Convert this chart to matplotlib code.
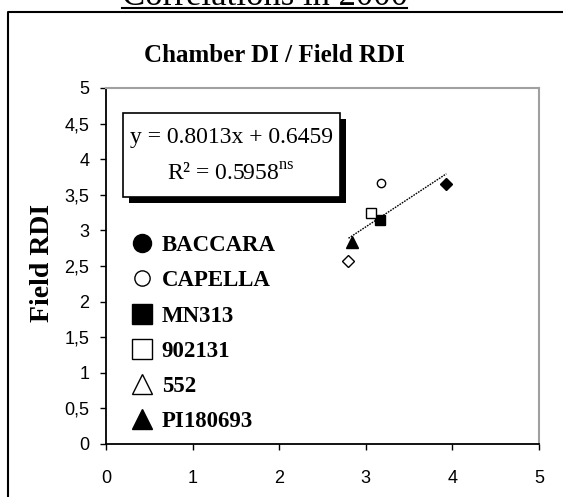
import matplotlib
matplotlib.use("Agg")
import matplotlib.pyplot as plt
from matplotlib.lines import Line2D
from matplotlib.patches import Rectangle

plt.rcParams["mathtext.fontset"] = "custom"
plt.rcParams["mathtext.rm"] = "Liberation Serif"

# data
varieties = ["BACCARA", "CAPELLA", "MN313", "902131", "552", "PI180693"]
chamber_di = [3.93, 3.17, 3.16, 3.06, 2.80, 2.84]
field_rdi = [3.65, 3.67, 3.15, 3.25, 2.57, 2.84]
slope, intercept = 0.8013, 0.6459
r2 = 0.5958

W, H = 563, 497
fig = plt.figure(figsize=(W / 100, H / 100), dpi=100)

def fx(px):
    return px / W

def fy(py):
    return 1 - py / H

ax = fig.add_axes([fx(106), fy(444), fx(539) - fx(106), fy(88) - fy(444)])

# points (marker style per variety, as drawn in the chart)
styles = [
    dict(marker="D", ms=6, mfc="black", mec="black"),
    dict(marker="o", ms=6, mfc="white", mec="black"),
    dict(marker="s", ms=7.5, mfc="black", mec="black"),
    dict(marker="s", ms=7.5, mfc="white", mec="black"),
    dict(marker="D", ms=6, mfc="white", mec="black"),
    dict(marker="^", ms=8, mfc="black", mec="black"),
]
for x, y, st in zip(chamber_di, field_rdi, styles):
    ax.plot([x], [y], linestyle="none", mew=1, zorder=3, **st)

# trend line
x0, x1 = min(chamber_di), max(chamber_di)
ax.plot([x0, x1], [slope * x0 + intercept, slope * x1 + intercept],
        color="black", lw=1, ls=(0, (1.2, 0.8)), zorder=2)

ax.set_xlim(0, 5)
ax.set_ylim(0, 5)
ax.set_xticks([0, 1, 2, 3, 4, 5])
ax.set_yticks([0, 0.5, 1, 1.5, 2, 2.5, 3, 3.5, 4, 4.5, 5])
ax.set_yticklabels(["0", "0,5", "1", "1,5", "2", "2,5", "3", "3,5", "4", "4,5", "5"])
ax.tick_params(direction="out", length=4, width=1, labelsize=13, color="black")
ax.tick_params(axis="x", pad=15)
ax.tick_params(axis="y", pad=8)
for lab in ax.get_xticklabels() + ax.get_yticklabels():
    lab.set_fontfamily("Liberation Sans")
for s in ["left", "bottom"]:
    ax.spines[s].set_linewidth(1.3)
    ax.spines[s].set_color("black")
for s in ["top", "right"]:
    ax.spines[s].set_linewidth(1.5)
    ax.spines[s].set_color("#a0a0a0")

ax.set_ylabel("Field RDI", fontsize=20, fontweight="bold", family="Liberation Serif")
ax.yaxis.set_label_coords(-(106 - 55) / (539 - 106), (444 - 263) / 356)

# fake legend
handles = [
    Line2D([], [], ls="none", marker="o", ms=13, mfc="black", mec="black"),
    Line2D([], [], ls="none", marker="o", ms=11, mfc="white", mec="black"),
    Line2D([], [], ls="none", marker="s", ms=14, mfc="black", mec="black"),
    Line2D([], [], ls="none", marker="s", ms=14, mfc="white", mec="black"),
    Line2D([], [], ls="none", marker="^", ms=15, mfc="white", mec="black"),
    Line2D([], [], ls="none", marker="^", ms=15, mfc="black", mec="black"),
]
ax.legend(handles, varieties, loc="upper left",
          bbox_to_anchor=(fx(133), fy(235)), bbox_transform=fig.transFigure,
          frameon=False, handlelength=0.8, handletextpad=0.45,
          labelspacing=0.62, borderpad=0, borderaxespad=0,
          prop=dict(family="Liberation Serif", weight="bold", size=16.5))

# equation box with shadow
fig.patches.append(Rectangle((fx(129), fy(203)), fx(346) - fx(129), fy(119) - fy(203),
                             transform=fig.transFigure, facecolor="black", edgecolor="none", zorder=4))
fig.patches.append(Rectangle((fx(123), fy(197)), fx(340) - fx(123), fy(113) - fy(197),
                             transform=fig.transFigure, facecolor="white", edgecolor="black", lw=1.2, zorder=5))
fig.text(fx(231), fy(138), f"y = {slope}x + {intercept}", ha="center", va="center",
         fontsize=17, family="Liberation Serif", zorder=6)
fig.text(fx(231), fy(175), f"R\u00b2 = {r2}" + r"$^{\mathrm{ns}}$", ha="center", va="center",
         fontsize=17, family="Liberation Serif", zorder=6)

# chart title
fig.text(fx(274), fy(56), "Chamber DI / Field RDI", ha="center", va="center",
         fontsize=18, fontweight="bold", family="Liberation Serif")

# page heading (cut off in the source) and outer frame
fig.text(fx(265), fy(5), "Correlations in 2000", ha="center", va="baseline",
         fontsize=25, family="Liberation Serif")
fig.add_artist(Line2D([fx(122), fx(407)], [fy(7.5), fy(7.5)], color="black", lw=1.5))
fig.add_artist(Line2D([fx(8), fx(8), fx(563)], [fy(497), fy(12), fy(12)], color="black", lw=1.5))

fig.savefig("out.png", dpi=100)
